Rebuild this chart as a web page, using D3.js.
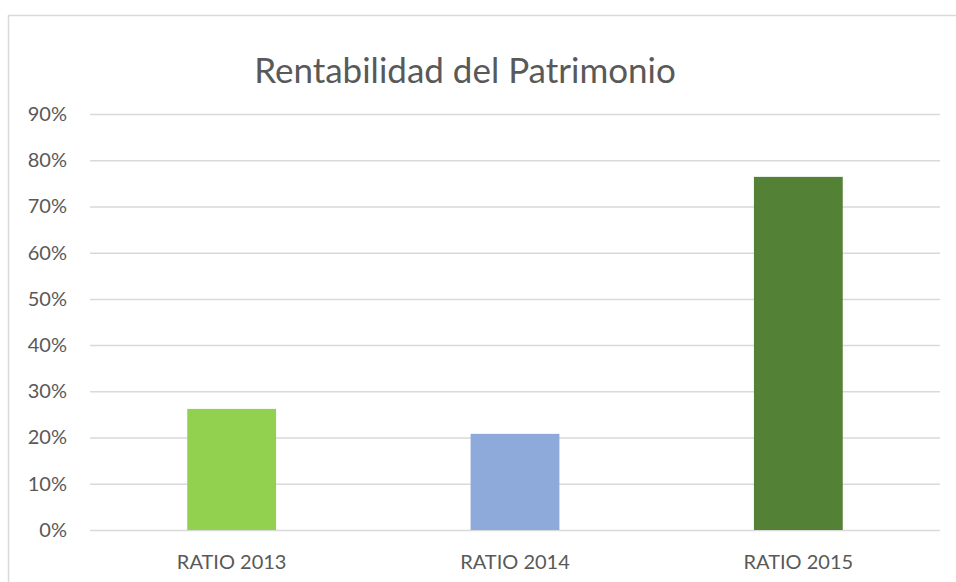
<!DOCTYPE html>
<html>
<head>
<meta charset="utf-8">
<script src="https://cdn.jsdelivr.net/npm/d3@7"></script>
<style>
  body { margin: 0; background: #fff; }
  .lbl text { font-family: Lato, "Open Sans", sans-serif; font-size: 20px; fill: #595959; }
</style>
</head>
<body>
<svg id="chart" width="956" height="582"></svg>
<script>
// data
var categories = ["RATIO 2013", "RATIO 2014", "RATIO 2015"];
var values = [0.262, 0.208, 0.764];
var barColors = ["#92d050", "#8eaadb", "#538135"];
var yTicks = [0, 0.1, 0.2, 0.3, 0.4, 0.5, 0.6, 0.7, 0.8, 0.9];

var svg = d3.select("#chart");

var plotLeft = 90, plotRight = 940, plotTop = 114, plotBottom = 530;

// chart frame
svg.append("rect")
    .attr("x", 8.5).attr("y", 15.5)
    .attr("width", 1000).attr("height", 1000)
    .attr("fill", "white")
    .attr("stroke", "#d9d9d9")
    .attr("stroke-width", 1.5);

var x = d3.scaleBand()
    .domain(categories)
    .range([plotLeft, plotRight])
    .paddingInner(0.6865)
    .paddingOuter(0.6865 / 2);

var y = d3.scaleLinear()
    .domain([0, 0.9])
    .range([plotBottom, plotTop]);

// y axis + gridlines
var yAxis = svg.append("g")
    .attr("class", "lbl")
    .attr("transform", "translate(" + plotLeft + ",0)")
    .call(d3.axisLeft(y)
        .tickValues(yTicks)
        .tickFormat(d3.format(".0%"))
        .tickSizeInner(-(plotRight - plotLeft))
        .tickSizeOuter(0)
        .tickPadding(23));
yAxis.select(".domain").remove();
yAxis.selectAll("line").attr("stroke", "#d9d9d9").attr("stroke-width", 1.5);

// bars
svg.selectAll(".bar")
    .data(values)
    .enter().append("rect")
    .attr("class", "bar")
    .attr("x", function (d, i) { return x(categories[i]); })
    .attr("width", x.bandwidth())
    .attr("y", function (d) { return y(d); })
    .attr("height", function (d) { return y(0) - y(d); })
    .attr("fill", function (d, i) { return barColors[i]; });

// x axis labels
var xAxis = svg.append("g")
    .attr("class", "lbl")
    .attr("transform", "translate(0," + plotBottom + ")")
    .call(d3.axisBottom(x).tickSize(0).tickPadding(25));
xAxis.select(".domain").remove();

// title
svg.append("text")
    .attr("x", 465)
    .attr("y", 82.5)
    .attr("text-anchor", "middle")
    .style("font-family", "Lato, 'Open Sans', sans-serif")
    .style("font-size", "35px")
    .attr("fill", "#595959")
    .text("Rentabilidad del Patrimonio");
</script>
</body>
</html>
